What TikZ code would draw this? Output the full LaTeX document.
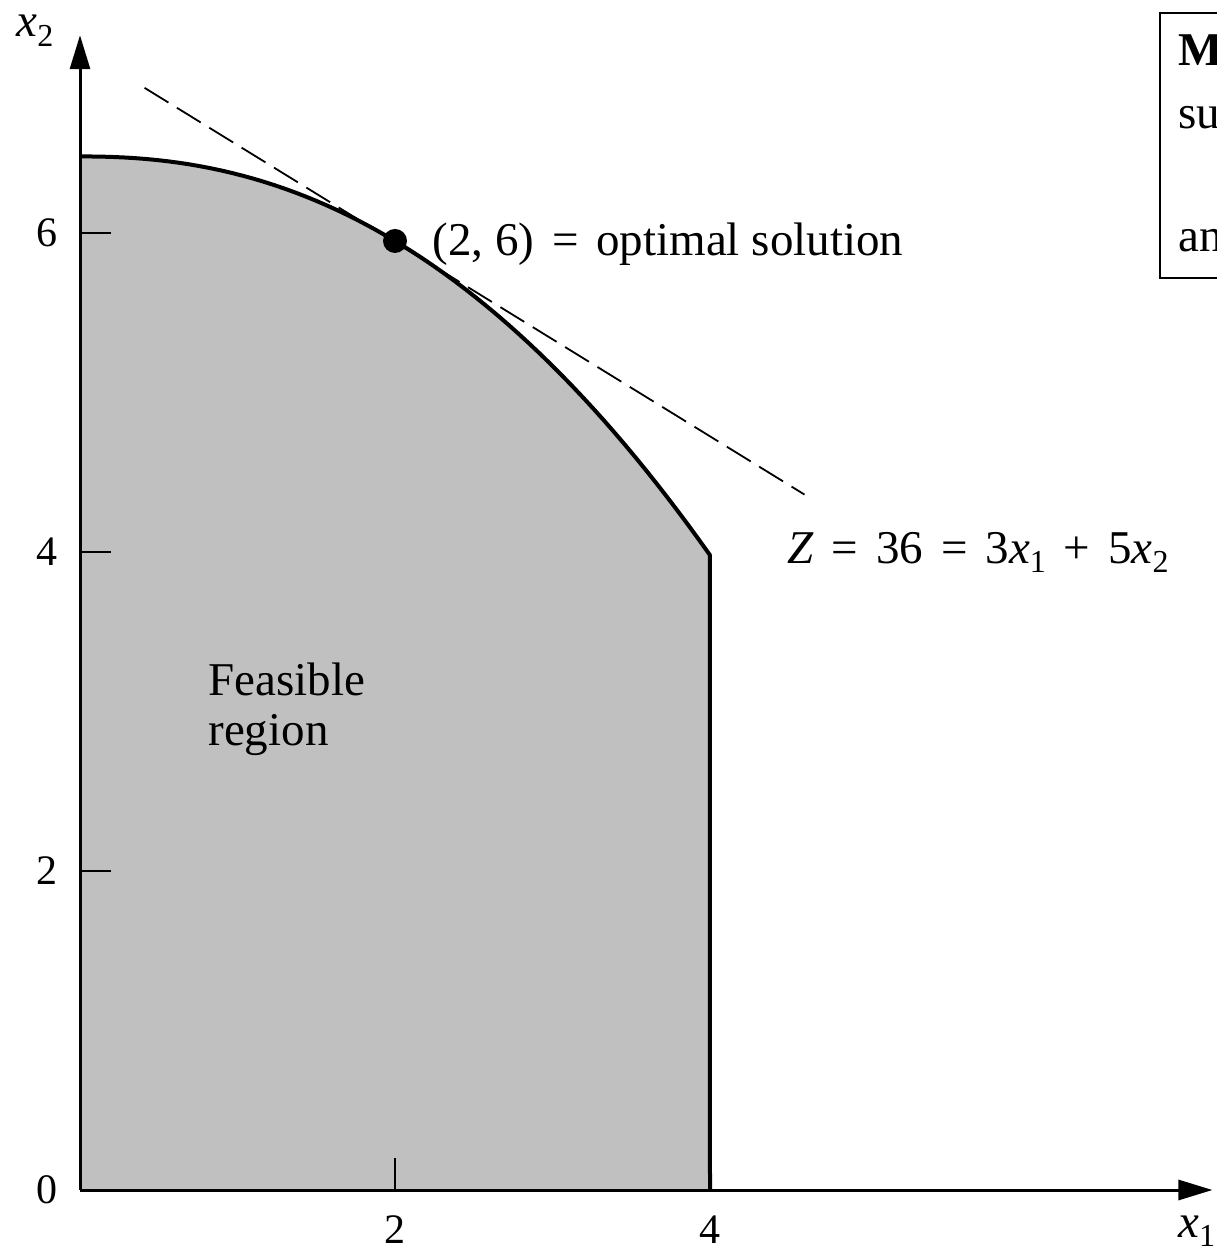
\documentclass[tikz,border=0pt]{standalone}
\usepackage{fontspec}
\setmainfont{Liberation Serif}
\usepackage{tikz}
\usetikzlibrary{arrows.meta}
\definecolor{regiongray}{RGB}{192,192,192}
\newcommand{\xvar}[1]{\textit{x}\raisebox{-0.45ex}{\fontsize{16}{16}\selectfont #1}}
\newcommand{\wsp}{\hspace{0.38em}}

\begin{document}
\begin{tikzpicture}[x=78.75pt, y=79.75pt, font=\fontsize{23.5}{25}\selectfont,
	axis/.style={line width=1.5pt, -{Triangle[length=17pt, width=10pt]}},
	boundary/.style={line width=2pt, line join=round},
	tangent/.style={line width=0.9pt, dash pattern=on 14pt off 5pt},
	ticklabel/.style={font=\fontsize{21}{21}\selectfont},
	dot/.style={circle, fill=black, inner sep=0pt, minimum size=12pt},
	notebox/.style={line width=1pt}]
	\useasboundingbox (-40pt,-30pt) rectangle (568.5pt,595pt);
	\fill[regiongray] (0,0) -- (0,6.48) -- plot[domain=0.02:4, samples=60] (\x,{6.48-0.1124*\x^2.238}) -- (4,0) -- cycle;
	\draw[boundary] (0,6.48) -- plot[domain=0.02:4, samples=60] (\x,{6.48-0.1124*\x^2.238}) -- (4,0);
	\coordinate (O) at (0,0);
	\coordinate (xend) at (7.19,0);
	\coordinate (yend) at (0,7.24);
	\draw[axis] (O) -- (xend);
	\draw[axis] (O) -- (yend);
	\foreach \y in {2,4,6} {\draw[line width=0.8pt] (0,\y) -- (0.2,\y);}
	\draw[line width=0.8pt] (2,0) -- (2,0.2);
	\foreach \y in {0,2,4,6} {\node[ticklabel] (ylab\y) at (-0.21,\y) {\y};}
	\foreach \x in {2,4} {\node[ticklabel] (xlab\x) at (\x,-0.25) {\x};}
	\node (xtwo) at (-0.286,7.27) {\xvar{2}};
	\node[anchor=base west, inner sep=0pt] (xone) at (6.97,-0.295) {\xvar{1}};
	\coordinate (tanA) at (0.41,6.91);
	\coordinate (tanB) at (4.6,4.36);
	\draw[tangent] (tanA) -- (tanB);
	\node[dot] (optpt) at (2,5.95) {};
	\node[anchor=base west, inner sep=0pt] (optlab) at (2.235,5.86) {(2, 6)\wsp=\wsp optimal solution};
	\node[anchor=base west, inner sep=0pt] (zlab) at (4.49,3.93) {\textit{Z}\wsp=\wsp 36\wsp=\wsp 3\xvar{1}\wsp+\wsp 5\xvar{2}};
	\node[anchor=north west, inner sep=0pt, align=left] (feas) at (0.813,3.31) {Feasible\\region};
	\draw[notebox] (6.857,7.379) rectangle (7.8,5.718);
	\node[anchor=base west, inner sep=0pt] (boxM) at (6.971,7.053) {\textbf{M}};
	\node[anchor=base west, inner sep=0pt] (boxsu) at (6.971,6.658) {su};
	\node[anchor=base west, inner sep=0pt] (boxan) at (6.971,5.881) {an};
\end{tikzpicture}
\end{document}
